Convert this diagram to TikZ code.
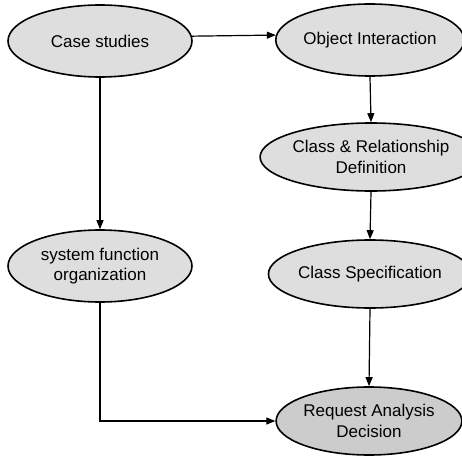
\documentclass[tikz,border=0pt]{standalone}
\usepackage{fontspec}
\setmainfont{Liberation Sans}
\usetikzlibrary{shapes.geometric,arrows.meta}
\begin{document}
\begin{tikzpicture}[x=1pt,y=-1pt,
  stage/.style={ellipse,draw=black,line width=1.6pt,fill=black!13,
    inner sep=0pt,minimum width=184pt,minimum height=72pt,
    align=center,font=\fontsize{17}{20.5}\selectfont},
  finalstage/.style={stage,fill=black!20},
  flow/.style={line width=1.2pt,-{Triangle[length=9pt,width=7pt]}}]
  \useasboundingbox (0,0) rectangle (462,457);
  % process stages
  \node[stage] (case) at (100,41) {Case studies};
  \node[stage,minimum width=178pt] (obj) at (370,40) {Object Interaction};
  \node[stage,minimum width=180pt,minimum height=68pt] (crd) at (371,157) {Class \& Relationship\\Definition};
  \node[stage,minimum width=176pt,minimum height=68pt] (spec) at (370,274) {Class Specification};
  \node[stage] (sys) at (100,266) {system function\\organization};
  \node[finalstage,minimum width=183pt,minimum height=68pt] (req) at (369,421) {Request Analysis\\Decision};
  % flow between stages
  \draw[flow] (case.3) -- (obj.177);
  \draw[flow] (obj.south) -- (crd.north);
  \draw[flow] (crd.south) -- (spec.north);
  \draw[flow] (spec.south) -- (req.north);
  \draw[flow] (case.south) -- (sys.north);
  \draw[flow] (sys.south) |- (req.west);
\end{tikzpicture}
\end{document}
